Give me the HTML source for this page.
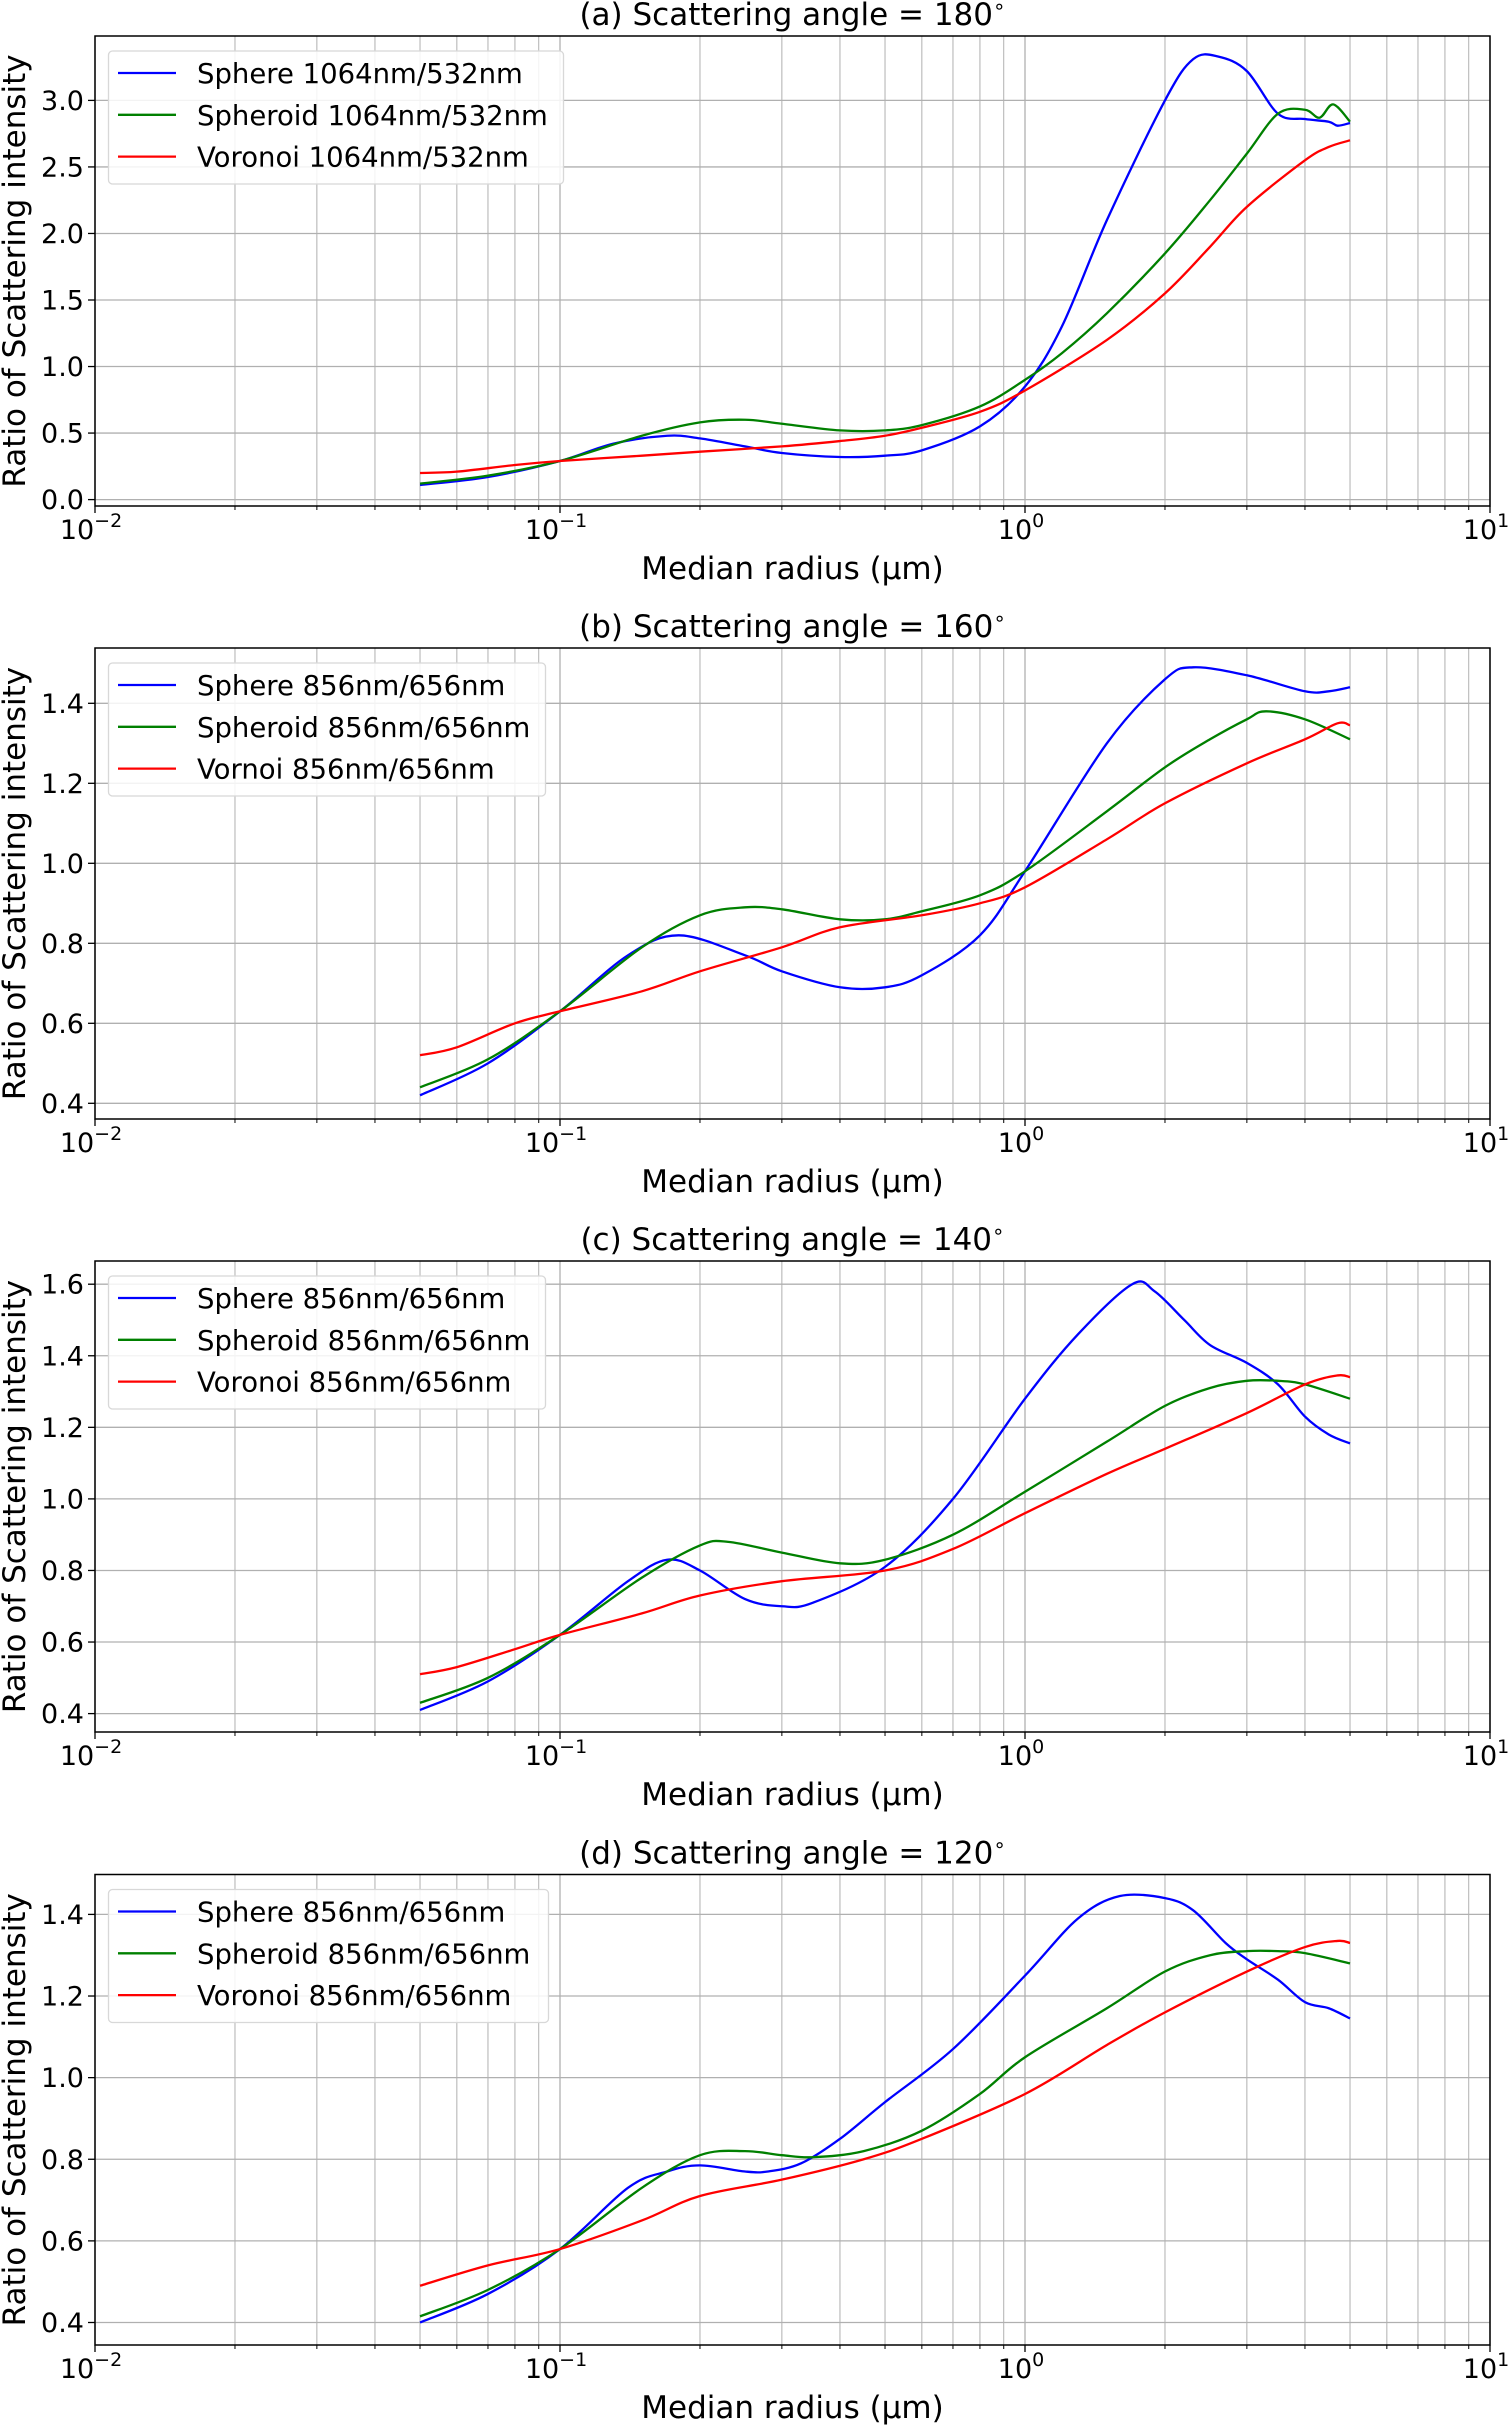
<!DOCTYPE html>
<html><head><meta charset="utf-8">
<style>
html,body{margin:0;padding:0;background:#fff;}
svg{display:block;font-family:"DejaVu Sans","Liberation Sans",sans-serif;}
</style></head>
<body>
<svg id="chart" width="1512" height="2425" viewBox="0 0 1512 2425" xmlns="http://www.w3.org/2000/svg"></svg>
<script>
// ---- data ----
const radiiA_sphere = [0.05,0.07,0.1,0.13,0.17,0.2,0.25,0.3,0.4,0.5,0.6,0.8,1.0,1.2,1.5,2.0,2.3,2.6,3.0,3.5,4.0,4.5,4.7,5.0];
const valsA_sphere  = [0.11,0.17,0.29,0.42,0.48,0.46,0.40,0.35,0.32,0.33,0.37,0.55,0.85,1.3,2.1,3.0,3.31,3.33,3.22,2.9,2.86,2.84,2.81,2.83];
const radiiA_spheroid = [0.05,0.07,0.1,0.15,0.2,0.25,0.3,0.4,0.5,0.6,0.8,1.0,1.2,1.5,2.0,2.5,3.0,3.5,4.0,4.3,4.6,5.0];
const valsA_spheroid  = [0.12,0.18,0.29,0.48,0.58,0.6,0.57,0.52,0.52,0.56,0.7,0.9,1.1,1.4,1.85,2.25,2.6,2.9,2.93,2.87,2.97,2.84];
const radiiA_voronoi = [0.05,0.06,0.08,0.1,0.15,0.2,0.3,0.4,0.5,0.6,0.8,1.0,1.5,2.0,2.5,3.0,4.0,4.5,5.0];
const valsA_voronoi  = [0.2,0.21,0.26,0.29,0.33,0.36,0.4,0.44,0.48,0.54,0.66,0.82,1.2,1.55,1.9,2.2,2.55,2.65,2.7];

const radiiB_sphere = [0.05,0.07,0.1,0.14,0.18,0.25,0.3,0.4,0.5,0.6,0.8,1.0,1.5,2.0,2.3,3.0,4.0,4.5,5.0];
const valsB_sphere  = [0.42,0.5,0.63,0.77,0.82,0.77,0.73,0.69,0.69,0.72,0.82,0.98,1.3,1.46,1.49,1.47,1.43,1.43,1.44];
const radiiB_spheroid = [0.05,0.07,0.1,0.15,0.2,0.25,0.3,0.4,0.5,0.6,0.8,1.0,1.5,2.0,2.5,3.0,3.3,4.0,5.0];
const valsB_spheroid  = [0.44,0.51,0.63,0.79,0.87,0.89,0.885,0.86,0.86,0.88,0.92,0.98,1.13,1.24,1.31,1.36,1.38,1.36,1.31];
const radiiB_voronoi = [0.05,0.06,0.08,0.1,0.15,0.2,0.3,0.4,0.6,0.8,1.0,1.5,2.0,3.0,4.0,4.7,5.0];
const valsB_voronoi  = [0.52,0.54,0.6,0.63,0.68,0.73,0.79,0.84,0.87,0.9,0.94,1.06,1.15,1.25,1.31,1.35,1.345];

const radiiC_sphere = [0.05,0.07,0.1,0.14,0.17,0.2,0.25,0.3,0.35,0.5,0.7,1.0,1.3,1.7,1.9,2.2,2.5,3.0,3.5,4.0,4.5,5.0];
const valsC_sphere  = [0.41,0.49,0.62,0.77,0.83,0.8,0.72,0.70,0.71,0.81,1.0,1.28,1.46,1.6,1.58,1.5,1.43,1.38,1.32,1.23,1.18,1.155];
const radiiC_spheroid = [0.05,0.07,0.1,0.15,0.2,0.23,0.3,0.4,0.5,0.7,1.0,1.5,2.0,2.5,3.0,3.5,4.0,5.0];
const valsC_spheroid  = [0.43,0.5,0.62,0.78,0.87,0.88,0.85,0.82,0.83,0.9,1.02,1.16,1.26,1.31,1.33,1.33,1.32,1.28];
const radiiC_voronoi = [0.05,0.06,0.08,0.1,0.15,0.2,0.3,0.5,0.7,1.0,1.5,2.0,3.0,4.0,4.7,5.0];
const valsC_voronoi  = [0.51,0.53,0.58,0.62,0.68,0.73,0.77,0.8,0.86,0.96,1.07,1.14,1.24,1.32,1.345,1.34];

const radiiD_sphere = [0.05,0.07,0.1,0.14,0.17,0.2,0.25,0.28,0.33,0.4,0.5,0.7,1.0,1.3,1.6,2.0,2.3,2.7,3.0,3.5,4.0,4.5,5.0];
const valsD_sphere  = [0.4,0.47,0.58,0.73,0.77,0.785,0.77,0.77,0.79,0.85,0.94,1.07,1.25,1.39,1.445,1.44,1.41,1.33,1.29,1.24,1.185,1.17,1.145];
const radiiD_spheroid = [0.05,0.07,0.1,0.15,0.2,0.25,0.3,0.35,0.45,0.6,0.8,1.0,1.5,2.0,2.5,3.0,3.5,4.0,5.0];
const valsD_spheroid  = [0.415,0.48,0.58,0.73,0.81,0.82,0.81,0.805,0.82,0.87,0.96,1.05,1.17,1.26,1.3,1.31,1.31,1.305,1.28];
const radiiD_voronoi = [0.05,0.07,0.1,0.15,0.2,0.3,0.45,0.6,1.0,1.5,2.0,3.0,4.0,4.7,5.0];
const valsD_voronoi  = [0.49,0.54,0.58,0.65,0.71,0.75,0.8,0.85,0.96,1.08,1.16,1.26,1.32,1.335,1.33];

const titles = ["(a) Scattering angle = 180","(b) Scattering angle = 160","(c) Scattering angle = 140","(d) Scattering angle = 120"];
const legendA = ["Sphere 1064nm/532nm","Spheroid 1064nm/532nm","Voronoi 1064nm/532nm"];
const legendB = ["Sphere 856nm/656nm","Spheroid 856nm/656nm","Vornoi 856nm/656nm"];
const legendC = ["Sphere 856nm/656nm","Spheroid 856nm/656nm","Voronoi 856nm/656nm"];
const legendD = ["Sphere 856nm/656nm","Spheroid 856nm/656nm","Voronoi 856nm/656nm"];
const yTicksA = [0.0,0.5,1.0,1.5,2.0,2.5,3.0];
const yTicksB = [0.4,0.6,0.8,1.0,1.2,1.4];
const yTicksC = [0.4,0.6,0.8,1.0,1.2,1.4,1.6];
const yTicksD = [0.4,0.6,0.8,1.0,1.2,1.4];
const xTickExps = [-2,-1,0,1];

const NS="http://www.w3.org/2000/svg";
const svg=document.getElementById('chart');
function mk(tag,attrs,parent){const e=document.createElementNS(NS,tag);for(const k in attrs)e.setAttribute(k,attrs[k]);(parent||svg).appendChild(e);return e;}

const L=95,R=1490;
const panels=[
 {top:36,bot:506,t0:0.0,p0:499.6,t1:3.0,p1:100.4,ticks:yTicksA,leg:legendA,legW:455,
  series:[[radiiA_sphere,valsA_sphere],[radiiA_spheroid,valsA_spheroid],[radiiA_voronoi,valsA_voronoi]]},
 {top:648,bot:1119,t0:1.4,p0:703.3,t1:0.4,p1:1103.3,ticks:yTicksB,leg:legendB,legW:437,
  series:[[radiiB_sphere,valsB_sphere],[radiiB_spheroid,valsB_spheroid],[radiiB_voronoi,valsB_voronoi]]},
 {top:1261,bot:1732,t0:1.6,p0:1284.2,t1:0.4,p1:1713.6,ticks:yTicksC,leg:legendC,legW:437,
  series:[[radiiC_sphere,valsC_sphere],[radiiC_spheroid,valsC_spheroid],[radiiC_voronoi,valsC_voronoi]]},
 {top:1874.5,bot:2345,t0:1.4,p0:1914.4,t1:0.4,p1:2322.5,ticks:yTicksD,leg:legendD,legW:440,
  series:[[radiiD_sphere,valsD_sphere],[radiiD_spheroid,valsD_spheroid],[radiiD_voronoi,valsD_voronoi]]}
];
const colors=["#0000ff","#008000","#ff0000"];
const sNames=["sphere","spheroid","voronoi"];
const letters=["a","b","c","d"];
function xs(r){return L+(Math.log10(r)+2)/3*(R-L);}

panels.forEach((p,i)=>{
  const g=mk('g',{});
  
  
  const ys=v=>p.p0+(v-p.t0)*(p.p1-p.p0)/(p.t1-p.t0);
  for(let e=-2;e<1;e++)for(let m=2;m<=9;m++){
    const x=xs(m*Math.pow(10,e));
    const ln=mk('line',{x1:x,x2:x,y1:p.top,y2:p.bot,stroke:'#b0b0b0','stroke-width':1},g);
    
    
    mk('line',{x1:x,x2:x,y1:p.bot,y2:p.bot+4,stroke:'#000','stroke-width':1},g);
  }
  xTickExps.forEach(e=>{
    const x=xs(Math.pow(10,e));
    const ln=mk('line',{x1:x,x2:x,y1:p.top,y2:p.bot,stroke:'#b0b0b0','stroke-width':1.3},g);
    
    
    mk('line',{x1:x,x2:x,y1:p.bot,y2:p.bot+7,stroke:'#000','stroke-width':1.3},g);
    const t=mk('text',{x:x-4,y:p.bot+33,'text-anchor':'middle','font-size':27},g);
    
    
    t.textContent='10';
    const s=mk('tspan',{dy:-12,'font-size':19},t);s.textContent=String(e).replace('-','\u2212');
  });
  p.ticks.forEach(v=>{
    const y=ys(v);
    const ln=mk('line',{x1:L,x2:R,y1:y,y2:y,stroke:'#b0b0b0','stroke-width':1.3},g);
    
    
    mk('line',{x1:L-7,x2:L,y1:y,y2:y,stroke:'#000','stroke-width':1.3},g);
    const t=mk('text',{x:L-11,y:y+9.5,'text-anchor':'end','font-size':27},g);
    
    
    t.textContent=v.toFixed(1);
  });
  p.series.forEach((s,k)=>{
    const [rr,vv]=s;
    const pts=rr.map((r,j)=>[xs(r),ys(vv[j])]);
    let d='M'+pts[0][0]+','+pts[0][1];
    for(let j=0;j<pts.length-1;j++){
      const p0=pts[j-1]||pts[j],p1=pts[j],p2=pts[j+1],p3=pts[j+2]||p2;
      const c1=[p1[0]+(p2[0]-p0[0])/6,p1[1]+(p2[1]-p0[1])/6];
      const c2=[p2[0]-(p3[0]-p1[0])/6,p2[1]-(p3[1]-p1[1])/6];
      d+=` C${c1[0]},${c1[1]} ${c2[0]},${c2[1]} ${p2[0]},${p2[1]}`;
    }
    const path=mk('path',{d:d,fill:'none',stroke:colors[k],'stroke-width':2.3},g);
    
    
  });
  const fr=mk('rect',{x:L,y:p.top,width:R-L,height:p.bot-p.top,fill:'none',stroke:'#000','stroke-width':1.5},g);
  
  
  const lg=mk('g',{},g);
  
  
  const ly=p.top+15;
  mk('rect',{x:108.5,y:ly,width:p.legW,height:133,rx:4,fill:'#fff','fill-opacity':0.85,stroke:'#d8d8d8','stroke-width':1.3},lg);
  p.leg.forEach((txt,k)=>{
    const yy=ly+22+k*41.8;
    const e=mk('g',{},lg);
    
    
    mk('line',{x1:118,x2:176,y1:yy,y2:yy,stroke:colors[k],'stroke-width':2.3},e);
    const t=mk('text',{x:197,y:yy+10,'font-size':27.5},e);t.textContent=txt;
  });
  const tt=mk('text',{x:(L+R)/2,y:p.top-11,'text-anchor':'middle','font-size':31},g);
  
  
  tt.textContent=titles[i];
  const deg=mk('tspan',{dy:-12,'font-size':20},tt);deg.textContent='\u2218';
  const xl=mk('text',{x:(L+R)/2,y:p.bot+73,'text-anchor':'middle','font-size':31},g);
  
  
  xl.textContent='Median radius (\u03bcm)';
  const yc=(p.top+p.bot)/2;
  const yl=mk('text',{x:0,y:0,'text-anchor':'middle','font-size':31,transform:`translate(25,${yc}) rotate(-90)`},g);
  
  
  yl.textContent='Ratio of Scattering intensity';
});
</script>
</body></html>
